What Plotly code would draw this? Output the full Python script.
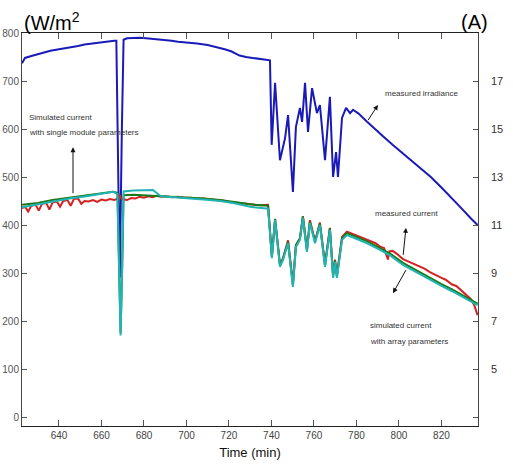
import plotly.graph_objects as go

# ---------------- data ----------------
irr_time = [622.6, 624, 627, 630, 633, 636, 640, 643, 646, 649, 652, 655, 658, 661, 664, 666, 667.0,
            667.6, 668.6, 669.6, 670.4, 672, 675, 678, 681, 684, 687, 690, 693, 696, 699, 702, 705, 710,
            715, 718, 721, 723, 725, 728, 731, 734, 737, 739.3, 740.1, 741.7, 744.0, 746.4, 747.8, 750.1,
            751.5, 753.4, 754.4, 755.8, 757.2, 759.1, 761.4, 762.8, 765.2, 767.5, 769.0, 770.4, 771.3,
            773.2, 775.1, 777.0, 778.4, 781, 785, 789, 792.5, 797, 801, 805, 810, 815, 820, 825, 830,
            834, 837]
irradiance = [737, 748, 752, 756, 760, 763, 766, 768, 770, 773, 776, 778, 780, 782, 784, 784, 784,
              600, 290, 600, 786, 789, 790, 790, 789, 788, 786, 785, 784, 782, 781, 780, 778, 775,
              770, 766, 762, 757, 753, 750, 748, 746, 745, 743, 567, 696, 535, 581, 629, 469,
              604, 644, 615, 696, 594, 685, 633, 650, 535, 667, 500, 552, 500,
              623, 644, 633, 640, 632, 615, 600, 585, 567, 552, 537, 520, 500, 478, 456, 432,
              413, 400]

sim_time = [622.6, 630, 637, 645, 653, 660, 665.4, 667.5, 668.3, 669.0, 669.7, 670.4, 675, 680, 684.2,
            688, 695, 700, 708, 715.8, 722, 730, 738.4, 740.2, 741.7, 744.0, 745.4, 747.8, 750.1, 751.5,
            753.4, 754.8, 756.7, 758.1, 760.5, 762.8, 765.2, 767.5, 769.0, 769.9, 770.8, 773.2, 775.5,
            777.9, 785, 791.1, 796, 801.9, 808, 814.6, 820, 825, 830.1, 834, 837]
sim_array = [11.74, 11.86, 11.98, 12.10, 12.20, 12.30, 12.38, 12.30, 9.0, 6.4, 9.0, 12.40, 12.44, 12.46, 12.46,
             12.20, 12.16, 12.12, 12.06, 12.00, 11.92, 11.76, 11.68, 9.62, 11.20, 9.26, 9.54, 10.24, 8.42, 10.08,
             10.38, 11.30, 9.88, 11.08, 10.24, 11.00, 9.26, 10.80, 8.80, 9.46, 8.80, 10.38, 10.58,
             10.50, 10.24, 9.96, 9.72, 9.34, 9.04, 8.70, 8.46, 8.24, 8.00, 7.80, 7.66]
sim_module = [11.84, 11.92, 12.04, 12.14, 12.24, 12.32, 12.38, 12.34, 9.1, 6.5, 9.1, 12.24, 12.26, 12.24, 12.22,
              12.20, 12.18, 12.16, 12.10, 12.04, 11.96, 11.86, 11.80, 9.68, 11.26, 9.32, 9.60, 10.30, 8.48, 10.14,
              10.44, 11.36, 9.94, 11.14, 10.30, 11.06, 9.32, 10.86, 8.86, 9.52, 8.86, 10.44, 10.66,
              10.58, 10.32, 10.04, 9.80, 9.42, 9.12, 8.78, 8.54, 8.32, 8.08, 7.88, 7.72]

meas_time = [622.6, 624, 625.5, 627, 629, 630.5, 632, 634, 635.5, 637, 639, 640.5, 642, 644, 645.5, 647,
             649, 650.5, 652, 654, 656, 658, 660, 662, 664, 666, 667.5, 668.5, 669.5, 671, 672, 674, 676,
             678, 680, 682, 684, 686, 688, 690, 693, 696, 699, 702, 705, 708, 711, 714, 717, 720, 723,
             726, 729, 732, 735, 738.4, 740.2, 741.7, 744.0, 745.4, 747.8, 750.1, 751.5, 753.4, 754.8,
             756.7, 758.1, 760.5, 762.8, 765.2, 767.5, 769.0, 769.9, 770.8, 773.2, 775.5, 777.9, 780,
             783, 786, 789, 791.1, 793, 794.8, 795.5, 797, 799, 801.9, 804, 807, 810, 812, 814.6, 817,
             820, 822, 825, 827, 830.1, 832, 834, 835.5, 837]
measured = [11.70, 11.76, 11.56, 11.80, 11.84, 11.60, 11.88, 11.92, 11.64, 11.94, 11.98, 11.76, 12.00, 12.04,
            11.80, 12.08, 12.10, 11.88, 12.00, 11.98, 12.04, 11.96, 12.06, 12.02, 12.08, 12.04, 12.10, 12.24,
            12.08, 12.06, 12.04, 12.12, 12.10, 12.18, 12.14, 12.20, 12.16, 12.22, 12.18, 12.20, 12.16, 12.18,
            12.14, 12.14, 12.10, 12.10, 12.06, 12.04, 12.02, 11.96, 11.94, 11.90, 11.86, 11.84, 11.82, 11.84,
            9.70, 11.24, 9.36, 9.60, 10.36, 8.56, 10.16, 10.44, 11.36, 9.96, 11.20, 10.32, 11.10, 9.36,
            10.88, 8.92, 9.56, 8.92, 10.50, 10.72, 10.64, 10.56, 10.48, 10.36, 10.24, 10.10, 10.04, 9.56,
            9.90, 9.92, 9.80, 9.58, 9.50, 9.36, 9.24, 9.18, 9.04, 8.92, 8.80, 8.72, 8.52, 8.46, 8.20, 8.08,
            7.90, 7.64, 7.24]

x_ticks = [640, 660, 680, 700, 720, 740, 760, 780, 800, 820]
left_ticks = [0, 100, 200, 300, 400, 500, 600, 700, 800]
right_ticks = [5, 7, 9, 11, 13, 15, 17]

FONT = "Liberation Sans, Arial, sans-serif"

fig = go.Figure()
fig.add_trace(go.Scatter(x=irr_time, y=irradiance, mode="lines",
                         line=dict(color="#1a1ab8", width=2), yaxis="y"))
fig.add_trace(go.Scatter(x=meas_time, y=measured, mode="lines",
                         line=dict(color="#d42222", width=2), yaxis="y2"))
fig.add_trace(go.Scatter(x=sim_time, y=sim_module, mode="lines",
                         line=dict(color="#1a7a1a", width=2), yaxis="y2"))
fig.add_trace(go.Scatter(x=sim_time, y=sim_array, mode="lines",
                         line=dict(color="#22b4b4", width=2), yaxis="y2"))

fig.update_layout(
    width=513, height=465,
    margin=dict(l=22, r=35, t=33, b=39),
    paper_bgcolor="white", plot_bgcolor="white",
    showlegend=False,
    xaxis=dict(range=[622.6, 837.2], tickvals=x_ticks, ticks="inside", ticklen=6,
               tickcolor="#555", showline=True, linecolor="#222", linewidth=1, mirror="ticks",
               showgrid=False, zeroline=False, automargin=False,
               tickfont=dict(family=FONT, size=10, color="#444"),
               title=dict(text="Time (min)", font=dict(family=FONT, size=13, color="#111"), standoff=7)),
    yaxis=dict(range=[-18.75, 800], tickvals=left_ticks, ticks="inside", ticklen=5,
               tickcolor="#555", showline=True, linecolor="#444", linewidth=1, mirror="ticks",
               showgrid=False, zeroline=False, automargin=False,
               tickfont=dict(family=FONT, size=10, color="#555")),
    yaxis2=dict(range=[2.625, 19], overlaying="y", side="right", tickvals=right_ticks,
                ticks="", showline=False, showgrid=False, zeroline=False, automargin=False,
                ticklabelstandoff=12,
                tickfont=dict(family=FONT, size=11, color="#333")),
)

ann = []
ann.append(dict(text="(W/m<sup>2</sup>", xref="paper", yref="paper", x=0.0, y=1.028,
                xanchor="left", yanchor="middle", showarrow=False,
                font=dict(family=FONT, size=20, color="#000")))
ann.append(dict(text="(A)", xref="paper", yref="paper", x=1.026, y=1.028,
                xanchor="right", yanchor="middle", showarrow=False,
                font=dict(family=FONT, size=20, color="#000")))

lab_font = dict(family=FONT, size=8, color="#333")
for txt, xx, yy in [("Simulated current", 625.0, 625),
                    ("with single module parameters", 625.0, 593),
                    ("measured irradiance", 792.5, 673),
                    ("measured current", 787.8, 425),
                    ("simulated current", 785.4, 190),
                    ("with array parameters", 785.4, 158)]:
    ann.append(dict(text=txt, x=xx, y=yy, xref="x", yref="y", xanchor="left", yanchor="middle",
                    showarrow=False, font=lab_font))

for hx, hy, axp, ayp in [(646.6, 562, 0, 48), (790.1, 650, -11, 17),
                         (803.3, 394, -3, 29), (797.2, 258, 14, -25)]:
    ann.append(dict(text=" ", x=hx, y=hy, xref="x", yref="y", ax=axp, ay=ayp,
                    showarrow=True, arrowhead=2, arrowsize=1, arrowwidth=1, arrowcolor="#111",
                    font=dict(size=1)))

fig.update_layout(annotations=ann)
fig.write_html("out.html", config={"displayModeBar": False},
               post_script="document.body.style.margin='0px';")
